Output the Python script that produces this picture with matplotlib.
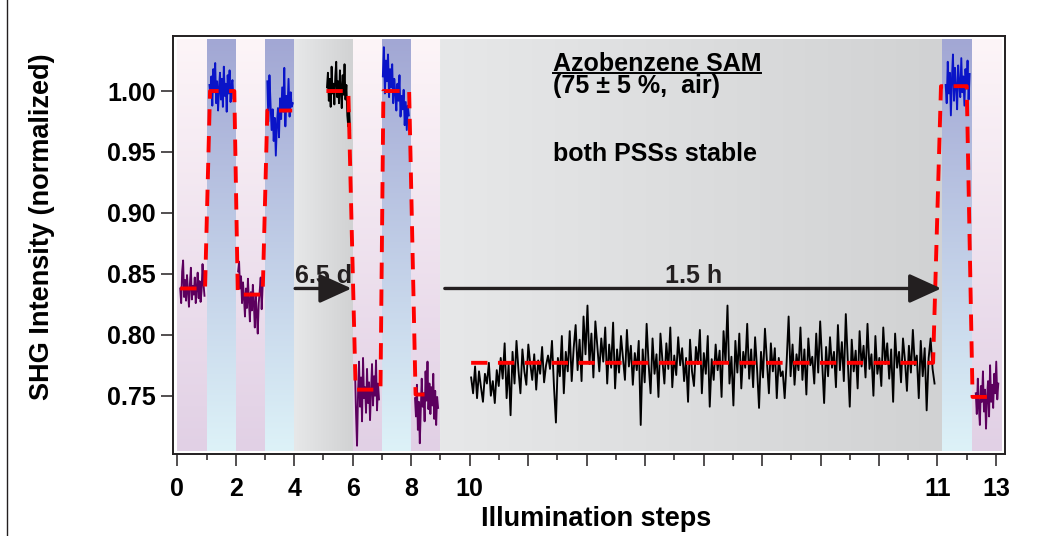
import numpy as np
import matplotlib
matplotlib.use("Agg")
import matplotlib.pyplot as plt
from matplotlib.colors import LinearSegmentedColormap
from matplotlib.lines import Line2D
from matplotlib.transforms import IdentityTransform

plt.rcParams['font.family'] = ['Liberation Sans', 'DejaVu Sans']
plt.rcParams['font.weight'] = 'bold'

# ---- data (plot coordinate u: 0..28, relabelled on the axis) ----
tick_pos = list(range(0, 29, 2))
tick_lab = ['0', '2', '4', '6', '8', '10', '', '', '', '', '', '', '', '11', '13']

# background bands: (start, end, kind)
bands = [(0, 1, 'pink'), (1, 2, 'blue'), (2, 3, 'pink'), (3, 4, 'blue'),
         (4, 6, 'gray'), (6, 7, 'pink'), (7, 8, 'blue'), (8, 9, 'pink'),
         (9, 26.17, 'gray'), (26.17, 27.18, 'blue'), (27.18, 28.19, 'pink')]

# short SHG traces (values x1000), with start/end in u and colour
trace_pink0 = [838, 826, 852, 861, 831, 845, 828, 849, 836, 823, 842, 855, 829,
               840, 833, 847, 826, 838, 851, 830, 844, 827, 836, 858, 842, 832]
trace_blue1 = [1005, 995, 1012, 988, 1018, 999, 1023, 990, 1008, 984, 1002, 1015, 993,
               1010, 987, 1020, 996, 1006, 983, 1013, 998, 1017, 991, 1004, 1009, 994]
trace_pink2 = [852, 860, 838, 848, 826, 843, 830, 815, 838, 822, 846, 828, 811,
               835, 820, 841, 826, 806, 832, 818, 801, 826, 836, 847, 821, 840]
trace_blue3 = [1008, 975, 1013, 990, 968, 985, 959, 978, 947, 972, 986, 962, 994,
               977, 1003, 983, 1019, 971, 996, 984, 1010, 979, 999, 987, 990]
trace_black5 = [1003, 1015, 992, 1010, 987, 1020, 998, 1006, 989, 1012, 1024, 995, 1008,
                990, 1017, 1001, 986, 1013, 997, 1022, 993, 1005, 980, 971, 985, 968]
trace_pink6 = [770, 735, 709, 752, 778, 741, 765, 729, 781, 748, 757, 736, 772,
               744, 761, 730, 754, 776, 742, 766, 750, 779, 738, 760, 747]
trace_blue7 = [1012, 1036, 998, 1025, 1008, 1030, 995, 1018, 1003, 1022, 990, 1010, 998,
               984, 1006, 992, 1013, 979, 996, 985, 1001, 972, 991, 968, 988, 980]
trace_pink8 = [748, 733, 759, 722, 745, 711, 738, 764, 741, 752, 729, 770, 746,
               778, 739, 760, 735, 757, 742, 768, 731, 754, 726, 749, 740]
trace_blue26 = [1005, 990, 1024, 998, 1015, 980, 1010, 1030, 992, 1019, 1003, 985,
                1021, 1006, 995, 1027, 999, 1012, 988, 1018, 1002, 1025, 993, 1014]
trace_pink27 = [752, 735, 764, 741, 726, 758, 745, 770, 737, 755, 723, 749,
                762, 733, 775, 745, 759, 740, 768, 752, 778, 747, 760]

# 1.5 h stability run
trace_long = [765, 752, 774, 748, 770, 757, 745, 768, 760, 777, 750, 762, 744, 771, 758,
              781, 764, 793, 748, 776, 734, 786, 760, 795, 771, 752,
              788, 770, 759, 792, 776, 763, 784, 755, 779, 768, 790, 761, 775, 783,
              772, 795, 758, 728, 781, 766, 799, 752, 786, 770, 803, 762,
              789, 808, 771, 796, 762, 815, 784, 824, 776, 801, 765, 811, 790, 770, 797,
              778, 806, 760, 792, 773, 810, 756, 788, 769, 799, 781, 763, 804, 774, 791, 759, 785,
              771, 795, 726, 788, 761, 809, 776, 752, 797, 768, 784, 749, 801, 779, 760, 793,
              772, 806, 757, 783, 767, 798, 775,
              789, 762, 781, 745, 796, 770, 758, 790, 776, 804, 752, 785, 768, 799, 741, 780,
              763, 792, 771, 787, 749, 803, 777, 824, 760, 782, 742, 795, 769, 801, 756, 786,
              773, 809, 764, 788,
              757, 798, 772, 740, 786, 765, 805, 779, 752, 793, 770, 789, 748, 781, 766,
              770, 748, 778, 815, 766, 792, 759, 784, 771, 806, 763, 788, 751, 797, 775, 782,
              760, 801, 769, 811, 778, 744, 790, 766, 798, 773, 786, 757, 808, 771, 794, 762,
              817, 779, 741, 796, 770, 787, 756, 803, 774, 791, 765, 809, 772, 784, 750, 799,
              768, 781, 758, 806, 776, 793, 764, 788, 745, 801, 773, 786, 761, 797, 779, 754,
              791, 769, 804, 775, 783, 748, 795, 766, 789, 738, 781, 797, 772, 760]

traces = [(trace_pink0, 0.10, 0.93, '#5c005e'), (trace_blue1, 1.10, 1.92, '#0a14c8'),
          (trace_pink2, 2.08, 2.92, '#5c005e'), (trace_blue3, 3.08, 3.95, '#0a14c8'),
          (trace_black5, 5.12, 5.91, 'black'), (trace_pink6, 6.08, 6.90, '#5c005e'),
          (trace_blue7, 7.03, 7.92, '#0a14c8'), (trace_pink8, 8.13, 8.92, '#5c005e'),
          (trace_long, 10.05, 25.90, 'black'),
          (trace_blue26, 26.28, 27.10, '#0a14c8'), (trace_pink27, 27.31, 28.08, '#5c005e')]

# mean levels (red dashed guide), one polyline per measurement block
mean_u = [[0.10, 0.95, 1.12, 1.95, 2.07, 2.92, 3.08, 3.93],
          [5.10, 5.85, 6.10, 6.95, 7.05, 7.93, 8.15, 8.80],
          [10.05, 25.85, 26.12, 27.00, 27.20, 27.95]]
mean_v = [[0.838, 0.838, 1.000, 1.000, 0.833, 0.833, 0.984, 0.984],
          [1.000, 1.000, 0.755, 0.755, 1.000, 1.000, 0.751, 0.751],
          [0.777, 0.777, 1.004, 1.004, 0.749, 0.749]]

# ---- figure ----
fig = plt.figure(figsize=(10.54, 5.36), dpi=100)
ax = fig.add_axes([0.1644, 0.153, 0.7894, 0.7804])

band_lo, band_hi = 0.7048, 1.0427
cmaps = {
    'pink': LinearSegmentedColormap.from_list('pk', ['#e1d0e5', '#fdf5f8']),
    'blue': LinearSegmentedColormap.from_list('bl', ['#ddf2f8', '#a2a7d4']),
    'gray': LinearSegmentedColormap.from_list('gr', ['#e7e8e9', '#d1d2d3']),
}
grad = np.linspace(0, 1, 256)
for u0, u1, kind in bands:
    img = grad.reshape(1, -1) if kind == 'gray' else grad.reshape(-1, 1)
    ax.imshow(img, cmap=cmaps[kind], extent=(u0, u1, band_lo, band_hi),
              origin='lower', aspect='auto', interpolation='bilinear', zorder=0)

for vals, u0, u1, col in traces:
    uu = np.linspace(u0, u1, len(vals))
    ax.plot(uu, np.array(vals) / 1000.0, color=col, lw=1.35, zorder=2)

for uu, vv in zip(mean_u, mean_v):
    ax.plot(uu, vv, color='#ff0000', lw=2.8, dashes=(4.2, 2.7), zorder=3)

# arrows
arrow_kw = dict(arrowstyle='-|>,head_length=1.1,head_width=0.5', color='#231f20',
                lw=2.4, mutation_scale=18, shrinkA=0, shrinkB=0)
ax.annotate('', xy=(5.96, 0.838), xytext=(4.03, 0.838), arrowprops=arrow_kw, zorder=4)
ax.annotate('', xy=(26.13, 0.838), xytext=(9.15, 0.838), arrowprops=arrow_kw, zorder=4)
ax.text(5.0, 0.8425, '6.5 d', ha='center', va='baseline', fontsize=18,
        fontweight='bold', color='#231f20', zorder=5)
ax.text(17.67, 0.8425, '1.5 h', ha='center', va='baseline', fontsize=18,
        fontweight='bold', color='#231f20', zorder=5)

title_xy = (12.85, 1.0165)
ax.text(title_xy[0], title_xy[1], 'Azobenzene SAM', ha='left', va='baseline',
        fontsize=18, fontweight='bold', zorder=5)
t_title = ax.texts[-1]
ax.text(12.85, 0.9982, '(75 \u00b1 5 %,  air)', ha='left', va='baseline',
        fontsize=18, fontweight='bold', zorder=5)
ax.text(12.85, 0.9427, 'both PSSs stable', ha='left', va='baseline',
        fontsize=18, fontweight='bold', zorder=5)

ax.set_xlim(-0.137, 28.32)
ax.set_ylim(0.7022, 1.0454)
ax.set_xticks(tick_pos)
ax.set_xticklabels(tick_lab)
ax.set_xticks(range(1, 28, 2), minor=True)
ax.set_yticks([0.75, 0.80, 0.85, 0.90, 0.95, 1.00])
ax.set_yticklabels(['0.75', '0.80', '0.85', '0.90', '0.95', '1.00'])
ax.tick_params(axis='both', which='major', length=8.5, width=1.1, labelsize=18,
               direction='out', color='#231f20')
ax.tick_params(axis='x', which='major', pad=8)
ax.tick_params(axis='y', which='major', pad=4)
ax.tick_params(axis='x', which='minor', length=4.3, width=1.1, color='#231f20')
for s in ax.spines.values():
    s.set_linewidth(1.4)
    s.set_color('#231f20')

ax.set_xlabel('Illumination steps', fontsize=19.5, fontweight='bold')
ax.set_ylabel('SHG Intensity (normalized)', fontsize=19.5, fontweight='bold')
ax.xaxis.set_label_coords(0.508, -0.124)
ax.yaxis.set_label_coords(-0.142, 0.544)

# underline the title text just below its baseline
fig.canvas.draw()
bb = t_title.get_window_extent(fig.canvas.get_renderer())
base_y = ax.transData.transform(title_xy)[1]
fig.add_artist(Line2D([bb.x0, bb.x1], [base_y - 2.2, base_y - 2.2], color='black',
                      lw=1.4, transform=IdentityTransform()))

# thin frame line at the left edge of the picture
fig.add_artist(Line2D([7 / 1054, 7 / 1054], [0, 1], color='#231f20', lw=1.0,
                      transform=fig.transFigure))

fig.savefig('out.png', dpi=100)
